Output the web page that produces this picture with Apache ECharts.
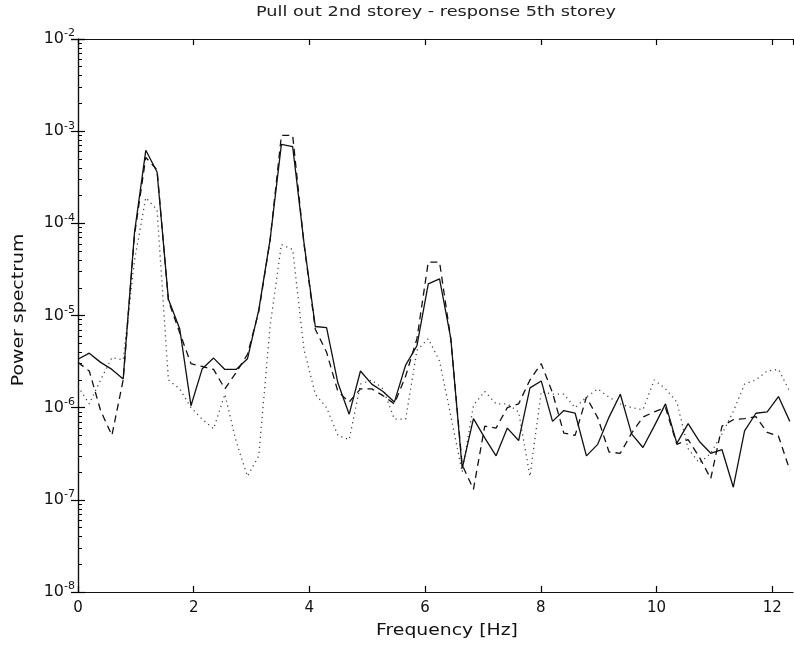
<!DOCTYPE html>
<html><head><meta charset="utf-8">
<script src="https://cdn.jsdelivr.net/npm/echarts@6/dist/echarts.min.js"></script>
<style>html,body{margin:0;padding:0;background:#fff}#c{width:794px;height:646px}</style>
</head><body><div id="c"></div>
<script>
const titleText = 'Pull out 2nd storey - response 5th storey';
const xName = 'Frequency [Hz]';
const yName = 'Power spectrum';
const xTickValues = [0, 2, 4, 6, 8, 10, 12];
const yTickExponents = [-8, -7, -6, -5, -4, -3, -2];

const freqHz = [0, 0.195, 0.391, 0.586, 0.781, 0.977, 1.172, 1.367, 1.563, 1.758,
  1.953, 2.148, 2.344, 2.539, 2.734, 2.930, 3.125, 3.320, 3.516, 3.711,
  3.906, 4.102, 4.297, 4.492, 4.688, 4.883, 5.078, 5.273, 5.469, 5.664,
  5.859, 6.055, 6.250, 6.445, 6.641, 6.836, 7.031, 7.227, 7.422, 7.617,
  7.813, 8.008, 8.203, 8.398, 8.594, 8.789, 8.984, 9.180, 9.375, 9.570,
  9.766, 9.961, 10.156, 10.352, 10.547, 10.742, 10.938, 11.133, 11.328, 11.523,
  11.719, 11.914, 12.109, 12.305];

const solidResp = [3.35e-6, 3.9e-6, 3.1e-6, 2.6e-6, 2.05e-6, 8e-5, 6.2e-4, 3.6e-4, 1.5e-5, 7.2e-6,
  1.05e-6, 2.65e-6, 3.45e-6, 2.6e-6, 2.6e-6, 3.4e-6, 1.15e-5, 6.6e-5, 7.2e-4, 6.8e-4,
  6.2e-5, 7.6e-6, 7.4e-6, 1.86e-6, 8.5e-7, 2.5e-6, 1.8e-6, 1.5e-6, 1.15e-6, 2.9e-6,
  4.7e-6, 2.2e-5, 2.5e-5, 5.6e-6, 2.2e-7, 7.6e-7, 4.7e-7, 3.0e-7, 6.0e-7, 4.4e-7,
  1.64e-6, 1.95e-6, 7.1e-7, 9.3e-7, 8.7e-7, 3.0e-7, 4.0e-7, 7.9e-7, 1.4e-6, 5.2e-7,
  3.7e-7, 6.3e-7, 1.1e-6, 4.1e-7, 6.7e-7, 4.3e-7, 3.2e-7, 3.5e-7, 1.37e-7, 5.6e-7,
  8.7e-7, 9.0e-7, 1.32e-6, 7.1e-7];

const dashedResp = [3.1e-6, 2.5e-6, 9.3e-7, 5.0e-7, 2.0e-6, 7.5e-5, 5.2e-4, 3.8e-4, 1.45e-5, 6.5e-6,
  3.0e-6, 2.8e-6, 2.6e-6, 1.6e-6, 2.4e-6, 3.8e-6, 1.1e-5, 6.5e-5, 9.0e-4, 9.0e-4,
  6.0e-5, 7.1e-6, 4.0e-6, 1.5e-6, 1.15e-6, 1.6e-6, 1.6e-6, 1.35e-6, 1.1e-6, 2.2e-6,
  5.6e-6, 3.8e-5, 3.8e-5, 5.5e-6, 2.4e-7, 1.3e-7, 6.3e-7, 6.0e-7, 1.0e-6, 1.1e-6,
  2.0e-6, 3.0e-6, 1.45e-6, 5.3e-7, 5.0e-7, 1.3e-6, 7.8e-7, 3.3e-7, 3.2e-7, 5.3e-7,
  7.9e-7, 9.0e-7, 1.0e-6, 4.0e-7, 4.5e-7, 2.9e-7, 1.7e-7, 6.3e-7, 7.4e-7, 7.6e-7,
  8.0e-7, 5.4e-7, 4.9e-7, 2.1e-7];

const dottedResp = [1.7e-6, 1.1e-6, 2.0e-6, 3.5e-6, 3.3e-6, 4.0e-5, 1.9e-4, 1.4e-4, 2.0e-6, 1.6e-6,
  1.0e-6, 7.5e-7, 5.9e-7, 1.4e-6, 4.3e-7, 1.8e-7, 3.0e-7, 7.6e-6, 5.9e-5, 5.2e-5,
  4.3e-6, 1.4e-6, 1.0e-6, 5.0e-7, 4.5e-7, 1.8e-6, 2.0e-6, 1.6e-6, 7.5e-7, 7.5e-7,
  4.2e-6, 5.6e-6, 3.2e-6, 8.1e-7, 2.0e-7, 1.06e-6, 1.5e-6, 1.1e-6, 1.1e-6, 9.0e-7,
  1.8e-7, 1.5e-6, 1.4e-6, 1.4e-6, 1.0e-6, 1.3e-6, 1.6e-6, 1.3e-6, 1.1e-6, 1.0e-6,
  9.5e-7, 2.0e-6, 1.6e-6, 1.15e-6, 3.6e-7, 2.5e-7, 3.2e-7, 5.2e-7, 9.1e-7, 1.8e-6,
  2.0e-6, 2.5e-6, 2.6e-6, 1.5e-6];

const FONT = 'DejaVu Sans';
const pairs = arr => freqHz.map((f, i) => [f, arr[i]]);

const chart = echarts.init(document.getElementById('c'), null, {renderer: 'canvas'});

const axisCommon = {
  axisLine: {show: true, lineStyle: {color: '#111', width: 1.2}},
  splitLine: {show: false}
};

chart.setOption({
  animation: false,
  backgroundColor: '#fff',
  grid: {left: 78, right: 1, top: 39, bottom: 54, containLabel: false},
  xAxis: [{
    ...axisCommon,
    type: 'value', min: 0, max: 12.36, interval: 2, position: 'bottom',
    axisTick: {show: true, inside: true, length: 6, lineStyle: {color: '#000', width: 1.2}},
    axisLabel: {
      show: true, margin: 9, color: '#111', fontFamily: FONT, fontSize: 15,
      showMaxLabel: false,
      formatter: v => (xTickValues.indexOf(v) >= 0 ? String(v) : '')
    }
  }, {
    ...axisCommon,
    type: 'value', min: 0, max: 12.36, interval: 2, position: 'top',
    axisTick: {show: true, inside: true, length: 6, lineStyle: {color: '#000', width: 1.2}},
    axisLabel: {show: false}
  }],
  yAxis: [{
    ...axisCommon,
    type: 'log', logBase: 10, min: 1e-8, max: 1e-2, interval: 1, position: 'left',
    axisTick: {show: true, inside: true, length: 7, lineStyle: {color: '#000', width: 1.2}},
    minorTick: {show: true, splitNumber: 9, length: 4, lineStyle: {color: '#000', width: 1}},
    axisLabel: {
      show: true, margin: 3, color: '#111',
      formatter: v => {
        const e = Math.round(Math.log10(v));
        return yTickExponents.indexOf(e) >= 0 ? '{b|10}{s|' + e + '}' : '';
      },
      rich: {
        b: {fontFamily: FONT, fontSize: 16, color: '#111', padding: [3, 0, 3, 0]},
        s: {fontFamily: FONT, fontSize: 11, color: '#111', verticalAlign: 'top'}
      }
    }
  }, {
    ...axisCommon,
    type: 'log', logBase: 10, min: 1e-8, max: 1e-2, interval: 1, position: 'right',
    axisTick: {show: true, inside: true, length: 7, lineStyle: {color: '#000', width: 1.2}},
    axisLabel: {show: false}
  }],
  graphic: [
    {type: 'text', x: 436, y: 12, scaleX: 1.22,
     style: {text: titleText, fontFamily: FONT, fontSize: 14.5, fill: '#222', textAlign: 'center', textVerticalAlign: 'middle'}},
    {type: 'text', x: 447, y: 631, scaleX: 1.14,
     style: {text: xName, fontFamily: FONT, fontSize: 16.5, fill: '#111', textAlign: 'center', textVerticalAlign: 'middle'}},
    {type: 'text', x: 19, y: 310, rotation: Math.PI / 2, scaleX: 1.22,
     style: {text: yName, fontFamily: FONT, fontSize: 15.5, fill: '#111', textAlign: 'center', textVerticalAlign: 'middle'}}
  ],
  series: [
    {name: 'solid', type: 'line', xAxisIndex: 0, yAxisIndex: 0, data: pairs(solidResp),
     symbol: 'none', lineStyle: {color: '#111', width: 1.3, type: 'solid'}, z: 4},
    {name: 'dashed', type: 'line', xAxisIndex: 0, yAxisIndex: 0, data: pairs(dashedResp),
     symbol: 'none', lineStyle: {color: '#111', width: 1.3, type: [7, 5]}, z: 3},
    {name: 'dotted', type: 'line', xAxisIndex: 0, yAxisIndex: 0, data: pairs(dottedResp),
     symbol: 'none', lineStyle: {color: '#444', width: 1.3, type: [1.2, 3.8]}, z: 2}
  ]
});
</script>
</body></html>
